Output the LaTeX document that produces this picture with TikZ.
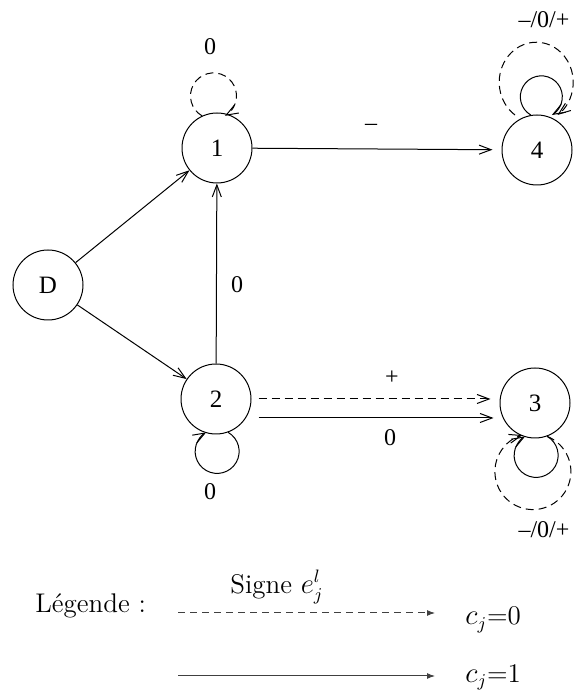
\documentclass[tikz,border=0pt]{standalone}
\usepackage{fontspec}
\newfontfamily\tms{Liberation Serif}
\usetikzlibrary{arrows.meta,calc}
\begin{document}
\begin{tikzpicture}[x=0.5pt,y=0.5pt,
  st/.style={circle,draw,line width=0.5pt,minimum size=35pt,inner sep=0pt,font=\tms\fontsize{12.5}{14}\selectfont},
  lab/.style={font=\tms\fontsize{12}{14}\selectfont,inner sep=0pt},
  legtxt/.style={font=\fontsize{13.5}{16}\selectfont,inner sep=0pt,anchor=base west},
  arr/.style={line width=0.5pt,-{Straight Barb[length=6pt,width=4.5pt]}},
  dsh/.style={dash pattern=on 4pt off 2.5pt},
  leg/.style={line width=0.5pt,draw=black!75,-{Latex[length=4pt,width=3pt]}},
  legdsh/.style={dash pattern=on 3.5pt off 2.5pt}]
\useasboundingbox (0,0) rectangle (574,697);
% states
\node[st] (D)  at (48,412)  {D};
\node[st] (n1) at (217,549) {1};
\node[st] (n2) at (216,298) {2};
\node[st] (n3) at (535,294) {3};
\node[st] (n4) at (537,547) {4};
% straight connectors
\draw[arr] (D) -- (n1);
\draw[arr] (D) -- (n2);
\draw[arr] (n2) -- (n1);
\draw[arr,shorten >=4.5pt] (n1) -- (n4);
\coordinate (d1) at ($(n2.east)+(7,0)$);
\coordinate (d2) at (n3.west |- n2.east);
\draw[arr,dsh,shorten >=4.5pt] (d1) -- (d2);
\coordinate (s1) at ($(n2.east)+(7,-19)$);
\coordinate (s2) at ($(n3.west)+(3,-15)$);
\draw[arr,shorten >=4.5pt] (s1) -- (s2);
% loops
\draw[arr,dsh] (n1.115) arc[start angle=240,end angle=-60,radius=23];
\draw[arr] (n2.-70) arc[start angle=60,end angle=-240,radius=22];
\draw[arr] (n3.-70) arc[start angle=60,end angle=-240,radius=22];
\draw[arr,dsh] (n3.-70) arc[start angle=68,end angle=-254,radius=38];
\draw[arr] (n4.100) arc[start angle=-120,end angle=-420,radius=21];
\coordinate (q4) at ($(n4)+(-22,35)$);
\draw[arr,dsh] (q4) arc[start angle=-125,end angle=-415,x radius=37,y radius=40];
% labels
\node[lab] (l1) at (210,650) {0};
\node[lab] (l4) at (544,677) {–/0/+};
\node[lab] (l14) at (371,570) {–};
\node[lab] (l21) at (237,412) {0};
\node[lab] (l23a) at (392,319) {+};
\node[lab] (l23b) at (390,259) {0};
\node[lab] (l2) at (210,205) {0};
\node[lab] (l3) at (544,167) {–/0/+};
% legend
\node[legtxt] (legt) at (35,84) {Légende :};
\node[legtxt] (sig) at (230,104) {Signe $e_j^l$};
\coordinate (la) at (178,84);
\coordinate (lb) at (435,84);
\draw[leg,legdsh] (la) -- (lb);
\coordinate (lc) at (178,21);
\coordinate (ld) at (435,21);
\draw[leg] (lc) -- (ld);
\node[legtxt] (c0) at (465,72) {$c_j$=0};
\node[legtxt] (c1) at (465,15) {$c_j$=1};
\end{tikzpicture}
\end{document}
